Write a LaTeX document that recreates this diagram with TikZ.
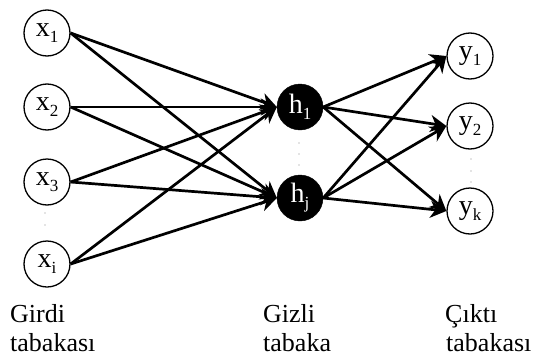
\documentclass[tikz,border=0pt]{standalone}
\usepackage{fontspec}
\setmainfont{Liberation Serif}
\usetikzlibrary{arrows.meta}
\newcommand\subsc[1]{\raisebox{-0.22em}{\fontsize{17}{17}\selectfont #1}}
\begin{document}
\begin{tikzpicture}[x=1pt,y=-1pt,
  inn/.style={circle,draw=black,line width=1.3pt,fill=white,minimum size=46pt,inner sep=0pt,font=\fontsize{28}{30}\selectfont},
  hid/.style={circle,draw=black,fill=black,text=white,minimum size=46pt,inner sep=0pt,font=\fontsize{28}{30}\selectfont},
  conn/.style={line width=2.7pt,-{Stealth[length=16pt,width=17pt,inset=5pt]}},
  lab/.style={anchor=base west,inner sep=0pt,font=\fontsize{26}{28}\selectfont},
  dotc/.style={circle,fill=black!45,inner sep=0pt,minimum size=1.3pt}]
\useasboundingbox (0,0) rectangle (535,356);
\node[inn] (x1) at (47,33) {x\subsc{1}};
\node[inn] (x2) at (47,107) {x\subsc{2}};
\node[inn] (x3) at (47,182) {x\subsc{3}};
\node[inn] (xi) at (47,264) {x\subsc{i}};
\node[hid] (h1) at (300,107) {h\subsc{1}};
\node[hid] (hj) at (300,198) {h\subsc{j}};
\node[inn] (y1) at (470,56) {y\subsc{1}};
\node[inn] (y2) at (470,126) {y\subsc{2}};
\node[inn] (yk) at (470,211) {y\subsc{k}};
\foreach \s in {x1,x2,x3,xi}{
  \draw[conn] (\s.east) -- (h1.west);
  \draw[conn] (\s.east) -- (hj.west);
}
\foreach \t in {y1,y2,yk}{
  \draw[conn] (h1.east) -- (\t.west);
  \draw[conn] (hj.east) -- (\t.west);
}
\node[dotc] (d1) at (45,213) {};
\node[dotc] (d2) at (45,225) {};
\node[dotc] (d3) at (299,143) {};
\node[dotc] (d4) at (299,154) {};
\node[dotc] (d5) at (299,165) {};
\node[dotc] (d6) at (471,159) {};
\node[dotc] (d7) at (471,171) {};
\node[dotc] (d8) at (471,182) {};
\node[lab] (l1) at (10,322) {Girdi};
\node[lab] (l2) at (10,351) {tabakası};
\node[lab] (l3) at (263,322) {Gizli};
\node[lab] (l4) at (263,351) {tabaka};
\node[lab] (l5) at (445,322) {Çıktı};
\node[lab] (l6) at (446,351) {tabakası};
\end{tikzpicture}
\end{document}
